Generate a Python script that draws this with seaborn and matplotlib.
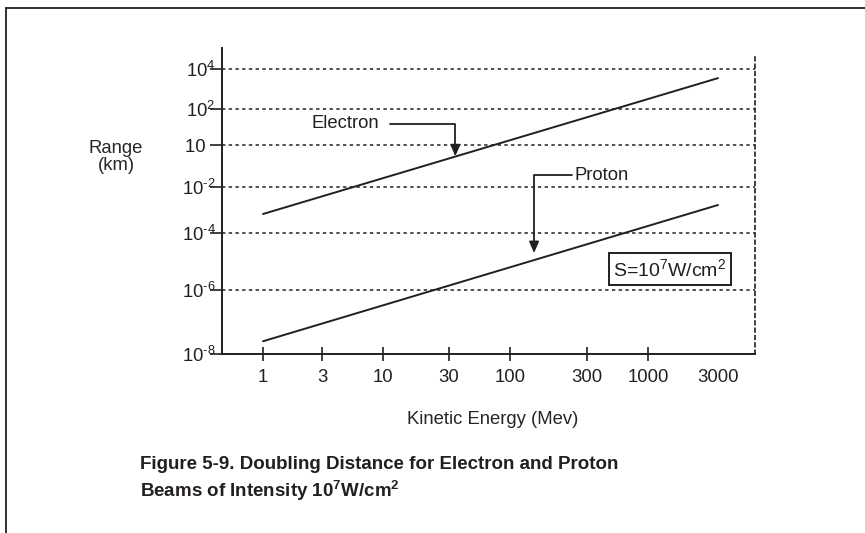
import numpy as np
import matplotlib
matplotlib.use("Agg")
import matplotlib.pyplot as plt
import seaborn as sns
from matplotlib.lines import Line2D

# values (range in km vs kinetic energy in MeV)
energy_mev = [1, 3000]
electron_range_km = [6.7e-4, 3.5e3]
proton_range_km = [2.5e-8, 1.65e-3]

x_ticks = [1, 3, 10, 30, 100, 300, 1000, 3000]
x_tick_labels = ["1", "3", "10", "30", "100", "300", "1000", "3000"]
y_ticks = [1e-8, 1e-6, 1e-4, 1e-2, 10, 1e2, 1e4]
y_tick_labels = [r"$10^{\text{-}8}$", r"$10^{\text{-}6}$", r"$10^{\text{-}4}$",
                 r"$10^{\text{-}2}$", "10  ", r"$10^{2}$", r"$10^{4}$"]

# the original axes are hand drawn: tick spacing is not uniform in log space,
# so the ticks sit at these offsets (pixels from the axis origin)
X_TICK_POS = [41, 100, 161, 227, 288, 365, 426, 496]
Y_TICK_POS = [0, 64, 121, 167, 209, 245, 285]
AX_W, AX_H = 533, 306
INK = "#231f20"


def piecewise(values, positions):
    lv = np.log10(values)
    pos = np.asarray(positions, float)
    lv = np.r_[lv[0] - 100 * (lv[1] - lv[0]), lv, lv[-1] + 100 * (lv[-1] - lv[-2])]
    pos = np.r_[pos[0] - 100 * (pos[1] - pos[0]), pos, pos[-1] + 100 * (pos[-1] - pos[-2])]

    def forward(v):
        v = np.asarray(v, float)
        with np.errstate(divide="ignore", invalid="ignore"):
            return np.interp(np.log10(np.clip(v, 1e-300, None)), lv, pos)

    def inverse(p):
        return 10 ** np.interp(np.asarray(p, float), pos, lv)

    return forward, inverse


sns.set_theme(style="ticks")
plt.rcParams["font.family"] = ["Liberation Sans", "DejaVu Sans"]
plt.rcParams["mathtext.fontset"] = "custom"
plt.rcParams["mathtext.rm"] = "Liberation Sans"
plt.rcParams["mathtext.it"] = "Liberation Sans:italic"
plt.rcParams["mathtext.bf"] = "Liberation Sans:bold"
plt.rcParams["mathtext.default"] = "regular"
plt.rcParams["text.color"] = INK
plt.rcParams["xtick.color"] = INK
plt.rcParams["ytick.color"] = INK

fig = plt.figure(figsize=(8.65, 5.33), dpi=100)
W, H = 865, 533
ax = fig.add_axes([222 / W, (H - 354) / H, AX_W / W, AX_H / H])

fx, ix = piecewise(x_ticks, X_TICK_POS)
fy, iy = piecewise(y_ticks, Y_TICK_POS)
ax.set_xscale("function", functions=(fx, ix))
ax.set_yscale("function", functions=(fy, iy))

sns.lineplot(x=energy_mev, y=electron_range_km, ax=ax, color=INK, lw=1.4)
sns.lineplot(x=energy_mev, y=proton_range_km, ax=ax, color=INK, lw=1.4)

ax.set_xlim(ix(0), ix(AX_W))
ax.set_ylim(iy(0), iy(AX_H))

# ticks: the last x label (3000) carries no tick mark
ax.set_xticks(x_ticks[:-1])
ax.set_xticklabels(x_tick_labels[:-1])
ax.set_xticks(x_ticks[-1:], minor=True)
ax.set_xticklabels(x_tick_labels[-1:], minor=True)
ax.set_yticks(y_ticks)
ax.set_yticklabels(y_tick_labels)
ax.yaxis.set_minor_locator(matplotlib.ticker.NullLocator())
ax.tick_params(axis="x", which="major", direction="inout", length=10, width=1.2,
               pad=6, labelsize=13.3)
ax.tick_params(axis="x", which="minor", length=0, pad=11, labelsize=13.3)
ax.tick_params(axis="y", direction="out", length=8.5, width=1.2, pad=-4,
               labelsize=13.3)

ax.yaxis.grid(True, linestyle=(0, (2.2, 2.2)), lw=1.1, color=INK)
ax.xaxis.grid(False)

for s in ("left", "bottom"):
    ax.spines[s].set_color(INK)
    ax.spines[s].set_linewidth(1.4)
ax.spines["top"].set_visible(False)
ax.spines["right"].set_color(INK)
ax.spines["right"].set_linewidth(1.2)
ax.spines["right"].set_linestyle((0, (2.2, 2.2)))
ax.spines["right"].set_bounds(iy(0), iy(297))

ax.set_xlabel("Kinetic Energy (Mev)", fontsize=13.3)
ax.xaxis.set_label_coords((493 - 222) / AX_W, (354 - 420) / AX_H)
ax.xaxis.label.set_va("center")
ax.set_ylabel("Range\n(km)", fontsize=13.3, rotation=0, ha="center",
              va="center", linespacing=1.0)
ax.yaxis.set_label_coords((116 - 222) / AX_W, (354 - 157) / AX_H)

arrow = dict(arrowstyle="-|>,head_length=0.5,head_width=0.22", color=INK, lw=1.3,
             shrinkA=6, shrinkB=0)
ax.annotate("Electron", xy=(34, 1.6), xycoords="data",
            xytext=(345, H - 124), textcoords="figure pixels",
            fontsize=13.3, ha="center", va="center",
            arrowprops=dict(arrow, relpos=(1, 0.5),
                            connectionstyle="angle,angleA=0,angleB=90,rad=0"))
ax.annotate("Proton", xy=(141, 2e-5), xycoords="data",
            xytext=(602, H - 175), textcoords="figure pixels",
            fontsize=13.3, ha="center", va="center",
            arrowprops=dict(arrow, relpos=(0, 0.5), shrinkA=0,
                            connectionstyle="angle,angleA=180,angleB=90,rad=0"))

fig.text(670 / W, 1 - 269 / H, r"S=10$^{7}$W/cm$^{2}$", fontsize=14,
         ha="center", va="center",
         bbox=dict(boxstyle="square,pad=0.25", fc="white", ec=INK, lw=1.4))

fig.text(140 / W, 64 / H, "Figure 5-9. Doubling Distance for Electron and Proton",
         fontsize=13.5, fontweight="bold", va="baseline")
fig.text(140 / W, 36 / H, r"Beams of Intensity $\mathbf{10^{7}}$W/cm$\mathbf{^{2}}$",
         fontsize=13.5, fontweight="bold", va="baseline")

# page frame (top and left rules)
fig.add_artist(Line2D([6 / W, 1], [1 - 8 / H, 1 - 8 / H], transform=fig.transFigure,
                      color=INK, lw=1.3))
fig.add_artist(Line2D([6 / W, 6 / W], [0, 1 - 8 / H], transform=fig.transFigure,
                      color=INK, lw=1.3))

fig.savefig("out.png", dpi=100, facecolor="white")
